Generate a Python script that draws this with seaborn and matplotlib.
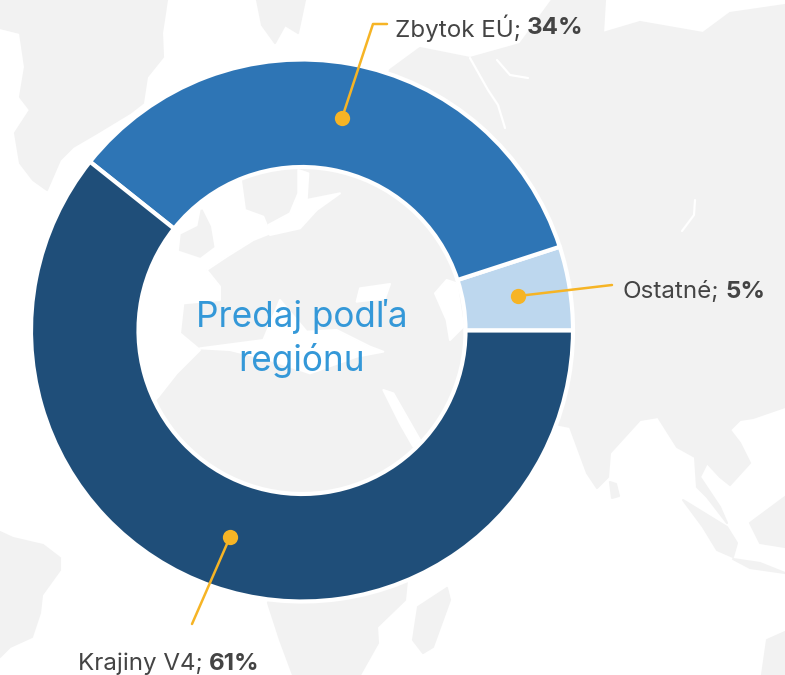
import matplotlib
matplotlib.use("Agg")
import matplotlib.pyplot as plt
import seaborn as sns
from matplotlib.patches import Polygon

sns.set_theme(style="white")
plt.rcParams['font.family'] = ['Inter', 'Lato', 'DejaVu Sans']

categories = ["Ostatné", "Zbytok EÚ", "Krajiny V4"]
values = [5, 34.3, 60.7]
value_labels = ["5%", "34%", "61%"]
colors = ["#BDD7EE", "#2E75B5", "#1F4E79"]
title_lines = ["Predaj podľa", "regiónu"]

W, H = 785, 675
fig = plt.figure(figsize=(W/100, H/100), dpi=100, facecolor="white")
bg = fig.add_axes([0, 0, 1, 1]); bg.set_xlim(0, W); bg.set_ylim(H, 0); bg.axis("off")
land = "#F2F2F2"
shapes = [
 # Greenland
 [(0,0),(167,0),(162,33),(163,57),(147,77),(143,103),(130,113),(97,133),(73,147),(60,160),(47,190),(33,180),(20,163),(15,133),(30,110),(20,97),(25,67),(20,33),(0,28)],
 # Svalbard
 [(257,0),(305,0),(298,33),(285,25),(275,43),(262,25)],
 # Eurasia
 [(380,100),(390,70),(420,48),(470,58),(520,44),(552,0),(605,0),(603,33),(640,22),(703,33),(730,13),(785,5),(785,407),
  (753,418),(740,420),(730,430),(740,443),(750,463),(730,485),(720,477),(707,463),(700,477),(720,507),(727,523),(707,497),(697,487),
  (695,457),(677,447),(658,417),(640,420),(610,453),(608,477),(597,488),(587,473),(570,427),(560,425),(480,400),(480,330)],
 # Sri Lanka, Sumatra, Java, Borneo, Australia
 [(610,482),(616,484),(619,496),(612,498)],
 [(683,500),(727,527),(737,543),(733,557),(717,550),(703,527)],
 [(733,559),(760,563),(785,573),(750,568)],
 [(750,523),(785,497),(785,547),(760,543)],
 [(785,632),(767,640),(762,675),(785,675)],
 # Africa south, Madagascar, South America
 [(268,603),(280,640),(293,675),(360,675),(378,643),(377,627),(405,600),(407,580),(400,540),(280,560)],
 [(447,588),(450,600),(433,647),(423,653),(413,640),(418,607)],
 [(0,532),(13,538),(43,545),(60,558),(60,570),(42,595),(40,613),(32,637),(10,647),(0,657)],
 # Europe / Africa seen through the hole
 [(130,160),(475,160),(475,500),(130,500)],
]
for s in shapes:
    bg.add_patch(Polygon(s, closed=True, fc=land, ec=land, lw=1.5, joinstyle="round", zorder=1))

def hole(pts):
    return [(x/3+130, y/3+160) for x, y in pts]

seas = [
 [(0,0),(330,40),(345,150),(400,170),(420,220),(370,240),(290,290),(230,330),(270,380),(270,420),(160,430),(150,520),(210,570),(140,640),(85,710),(0,800)],
 [(210,565),(400,540),(450,420),(530,515),(620,510),(720,560),(760,575),(680,590),(540,640),(420,600),(300,570)],
 [(505,30),(535,40),(530,120),(630,100),(560,150),(510,205),(420,225),(415,195),(480,160),(505,100)],
 [(760,690),(790,700),(870,840),(850,860),(810,790)],
 [(915,400),(950,360),(980,370),(1000,500),(960,540),(950,480)],
 [(690,385),(780,372),(765,415),(680,425)],
]
for s in seas:
    bg.add_patch(Polygon(hole(s), closed=True, fc="white", ec="white", lw=1.5, joinstyle="round", zorder=2))
uk = [(215,150),(240,200),(250,260),(210,290),(150,270),(155,225),(205,200)]
bg.add_patch(Polygon(hole(uk), closed=True, fc=land, ec=land, lw=1.5, zorder=3))
fjords = [
 [(470,58),(488,90),(498,105),(505,128)],
 [(497,60),(510,75),(528,78)],
 [(695,200),(694,215),(682,231)],
]
for f in fjords:
    bg.plot(*zip(*f), color="white", lw=1.6, zorder=3)

cx, cy, R, r = 302, 330.5, 271, 163.5
pa = fig.add_axes([(cx-R)/W, 1-(cy+R)/H, 2*R/W, 2*R/H]); pa.patch.set_alpha(0)
pa.pie(values, colors=colors, startangle=0, counterclock=True, radius=1,
       wedgeprops=dict(width=(R-r)/R, edgecolor="white", linewidth=3))
pa.set_xlim(-1, 1); pa.set_ylim(-1, 1)

top = fig.add_axes([0, 0, 1, 1]); top.set_xlim(0, W); top.set_ylim(H, 0); top.axis("off"); top.patch.set_alpha(0)
tcol = "#3498D8"
top.text(cx, 317, title_lines[0], ha="center", va="center", fontsize=25.3, color=tcol)
top.text(cx, 360, title_lines[1], ha="center", va="center", fontsize=25.3, color=tcol)
yel = "#F6B425"
leaders = [([518,612],[296,285]), ([342,373,387],[118,24,24]), ([230,192],[537,624])]
for xs, ys in leaders:
    top.plot(xs, ys, color=yel, lw=1.8, solid_capstyle="round")
    top.plot(xs[0], ys[0], "o", color=yel, ms=11, mec="none")
fs = 17.4
tc = "#444444"
pos = [(623,290), (395,26), (78,661)]
rend = fig.canvas.get_renderer()
for (x, y), a, b in zip(pos, categories, value_labels):
    t = top.text(x, y, a + ";", ha="left", va="center_baseline", fontsize=fs, color=tc)
    bb = t.get_window_extent(rend)
    top.text(x + bb.width + 6, y, b, ha="left", va="center_baseline", fontsize=fs, color=tc, fontweight="bold")
fig.savefig("out.png", dpi=100, facecolor="white")
